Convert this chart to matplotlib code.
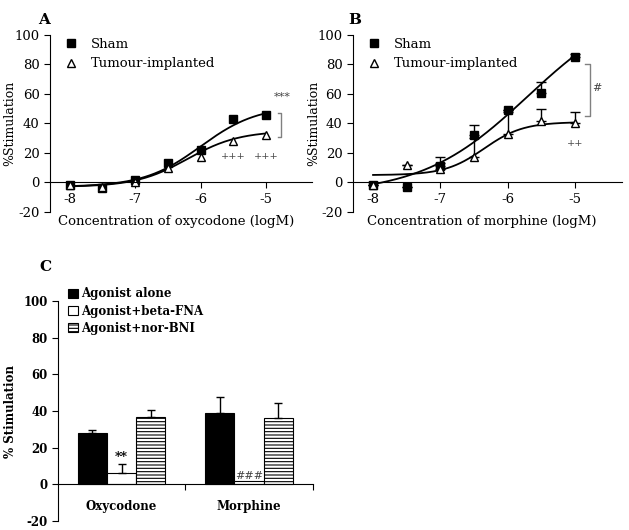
import numpy as np
import matplotlib
matplotlib.use('Agg')
import matplotlib.pyplot as plt

plt.rcParams['font.family'] = 'DejaVu Serif'
plt.rcParams['axes.unicode_minus'] = False
plt.rcParams['hatch.linewidth'] = 0.8

# panel A - oxycodone
logc = [-8, -7.5, -7, -6.5, -6, -5.5, -5]
oxy_sham = [-2, -4, 2, 13, 22, 43, 46]
oxy_tum = [-2, -3, 0, 10, 17, 28, 32]
# fit parameters (bottom, top, logEC50, hill)
oxy_sham_fit = (-3, 52, -6.0, 1.0)
oxy_tum_fit = (-3, 35, -6.2, 1.1)

# panel B - morphine
mor_sham = [-2, -3, 11, 32, 49, 61, 85]
mor_sham_err = [2, 0, 6, 7, 0, 7, 2]
mor_tum = [-2, 12, 9, 17, 33, 42, 40]
mor_tum_err = [0, 0, 4, 13, 15, 8, 8]
mor_sham_fit = (-8, 125, -5.7, 0.55)
mor_tum_fit = (5, 41, -6.35, 1.5)

# panel C
groups = ['Oxycodone', 'Morphine']
alone = [28, 39]
alone_err = [1.5, 8.5]
bfna = [6, 2]
bfna_err = [5, 0]
norbni = [37, 36]
norbni_err = [3.5, 8.5]


def logistic(x, p):
    b, t, ec, h = p
    return b + (t - b) / (1 + 10 ** ((ec - x) * h))


def style_curve_ax(ax, xlabel):
    ax.set_xlim(-8.3, -4.3)
    ax.set_ylim(-20, 100)
    ax.spines['top'].set_visible(False)
    ax.spines['right'].set_visible(False)
    ax.spines['bottom'].set_position(('data', 0))
    ax.spines['left'].set_bounds(-20, 100)
    ax.set_xticks([-8, -7, -6, -5])
    ax.set_yticks(range(-20, 101, 20))
    ax.tick_params(labelsize=9.5, length=4, direction='out')
    ax.set_xlabel(xlabel, fontsize=9.5)
    ax.xaxis.set_label_coords(0.48, -0.015)
    ax.set_ylabel('%Stimulation', fontsize=9)
    ax.patch.set_alpha(0)


fig = plt.figure(figsize=(6.29, 5.30), dpi=100)
xs = np.linspace(-8, -5, 200)

# A
axA = fig.add_axes([0.0795, 0.6, 0.4165, 0.334])
axA.plot(xs, logistic(xs, oxy_sham_fit), 'k-', lw=1.3)
axA.plot(xs, logistic(xs, oxy_tum_fit), 'k-', lw=1.3)
axA.plot(logc, oxy_sham, 's', color='k', ms=5.5, label='Sham')
axA.plot(logc, oxy_tum, '^', mfc='white', mec='k', ms=6, label='Tumour-implanted')
axA.legend(loc='upper left', bbox_to_anchor=(0.0, 1.03), frameon=False,
           fontsize=9.5, handletextpad=0.5, borderaxespad=0.2, labelspacing=0.5)
axA.plot([-4.82, -4.77, -4.77, -4.82], [47, 47, 31, 31], color='gray', lw=1)
axA.text(-4.75, 56, '***', fontsize=8, ha='center', color='#444444')
axA.text(-5.5, 16, '+++', fontsize=7, ha='center', color='#444444')
axA.text(-5.0, 16, '+++', fontsize=7, ha='center', color='#444444')
style_curve_ax(axA, 'Concentration of oxycodone (logM)')
axA.yaxis.set_label_coords(-0.13, 0.5)
fig.text(0.06, 0.975, 'A', fontsize=11, fontweight='bold', va='top')

# B
axB = fig.add_axes([0.561, 0.6, 0.428, 0.334])
axB.plot(xs, logistic(xs, mor_sham_fit), 'k-', lw=1.3)
axB.plot(xs, logistic(xs, mor_tum_fit), 'k-', lw=1.3)
axB.errorbar(logc, mor_tum, yerr=[np.zeros(7), mor_tum_err], fmt='none',
             ecolor='k', elinewidth=1, capsize=3.5)
axB.errorbar(logc, mor_sham, yerr=[np.zeros(7), mor_sham_err], fmt='none',
             ecolor='k', elinewidth=1, capsize=3.5)
axB.plot(logc, mor_sham, 's', color='k', ms=5.5, label='Sham')
axB.plot(logc, mor_tum, '^', mfc='white', mec='k', ms=6, label='Tumour-implanted')
axB.legend(loc='upper left', bbox_to_anchor=(0.0, 1.03), frameon=False,
           fontsize=9.5, handletextpad=0.5, borderaxespad=0.2, labelspacing=0.5)
axB.plot([-4.85, -4.78, -4.78, -4.85], [80, 80, 45, 45], color='gray', lw=1)
axB.text(-4.68, 62, '#', fontsize=8, ha='center', color='#444444')
axB.text(-5.0, 25, '++', fontsize=7, ha='center', color='#444444')
style_curve_ax(axB, 'Concentration of morphine (logM)')
axB.yaxis.set_label_coords(-0.12, 0.5)
fig.text(0.553, 0.975, 'B', fontsize=11, fontweight='bold', va='top')

# C
axC = fig.add_axes([0.092, 0.017, 0.405, 0.415])
pos = np.arange(len(groups))
w = 0.23
axC.bar(pos - w, alone, w, color='k', edgecolor='k', lw=0.8, label='Agonist alone')
axC.bar(pos, bfna, w, color='white', edgecolor='k', lw=0.8, label='Agonist+beta-FNA')
axC.bar(pos + w, norbni, w, color='white', edgecolor='k', lw=0.8, hatch='-----',
        label='Agonist+nor-BNI')
axC.errorbar(pos - w, alone, yerr=[np.zeros(2), alone_err], fmt='none', ecolor='k',
             elinewidth=1, capsize=3)
axC.errorbar(pos[:1], bfna[:1], yerr=[[0], bfna_err[:1]], fmt='none', ecolor='k',
             elinewidth=1, capsize=3)
axC.errorbar(pos + w, norbni, yerr=[np.zeros(2), norbni_err], fmt='none', ecolor='k',
             elinewidth=1, capsize=3)
axC.text(0, 13, '**', fontsize=9, ha='center', fontweight='bold')
axC.text(1, 3, '###', fontsize=8, ha='center', color='#444444')
for i, g in enumerate(groups):
    axC.text(pos[i], -12, g, fontsize=8.5, ha='center', va='center', fontweight='bold')
axC.set_xlim(-0.5, 1.5)
axC.set_ylim(-20, 100)
axC.spines['top'].set_visible(False)
axC.spines['right'].set_visible(False)
axC.spines['bottom'].set_position(('data', 0))
axC.set_xticks([0.5, 1.5])
axC.set_xticklabels([])
axC.set_yticks(range(-20, 101, 20))
axC.tick_params(labelsize=8.5, length=4, direction='out')
for t in axC.get_yticklabels():
    t.set_fontweight('bold')
axC.set_ylabel('% Stimulation', fontsize=8.5, fontweight='bold')
axC.yaxis.set_label_coords(-0.16, 0.5)
axC.legend(loc='upper left', bbox_to_anchor=(0.0, 1.11), frameon=False,
           prop={'weight': 'bold', 'size': 8.5}, handlelength=0.8,
           handleheight=0.8, handletextpad=0.3, labelspacing=0.35)
fig.text(0.063, 0.51, 'C', fontsize=11, fontweight='bold', va='top')

fig.savefig('out.png', dpi=100)
